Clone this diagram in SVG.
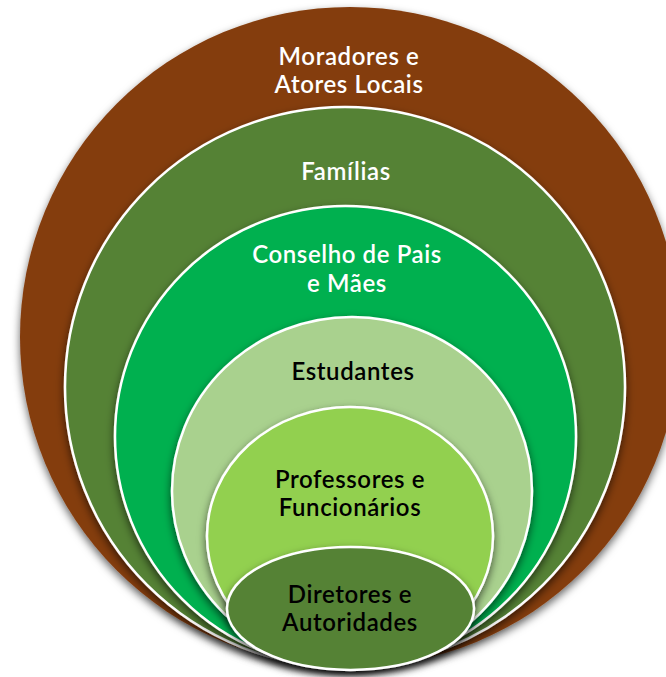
<svg xmlns="http://www.w3.org/2000/svg" width="666" height="677" viewBox="0 0 666 677">
<defs>
<filter id="sh" x="-10%" y="-10%" width="120%" height="125%">
<feDropShadow dx="0" dy="4" stdDeviation="4" flood-color="#000" flood-opacity="0.6"/>
</filter>
</defs>
<style>
.s{stroke:#fff;stroke-width:2.5;filter:url(#sh)}
text{font-family:Lato,"Open Sans","Liberation Sans",sans-serif;font-size:24px;font-weight:600;letter-spacing:0.6px;text-anchor:middle}
.w{fill:#fff}
.k{fill:#000}
</style>
<rect width="666" height="677" fill="#fff"/>
<g id="moradores">
<ellipse cx="350" cy="337" rx="330" ry="330" fill="#843C0C" filter="url(#sh)"/>
<text class="w" x="349" y="65">Moradores e</text>
<text class="w" x="349" y="93">Atores Locais</text>
</g>
<g id="familias">
<ellipse class="s" cx="345" cy="387" rx="280" ry="280" fill="#548235"/>
<text class="w" x="346" y="180">Famílias</text>
</g>
<g id="conselho">
<ellipse class="s" cx="345.5" cy="436.5" rx="230.5" ry="230.5" fill="#00B050"/>
<text class="w" x="347" y="263">Conselho de Pais</text>
<text class="w" x="347" y="292">e Mães</text>
</g>
<g id="estudantes">
<ellipse class="s" cx="352" cy="491" rx="180" ry="174" fill="#A9D18E"/>
<text class="k" x="353" y="380">Estudantes</text>
</g>
<g id="professores">
<ellipse class="s" cx="350" cy="536" rx="143" ry="129" fill="#92D050"/>
<text class="k" x="350" y="488">Professores e</text>
<text class="k" x="350" y="516">Funcionários</text>
</g>
<g id="diretores">
<ellipse class="s" cx="350.5" cy="608.5" rx="123.5" ry="61.5" fill="#548235"/>
<text class="k" x="350" y="603">Diretores e</text>
<text class="k" x="350" y="631">Autoridades</text>
</g>
<g id="connectors"/>
</svg>
